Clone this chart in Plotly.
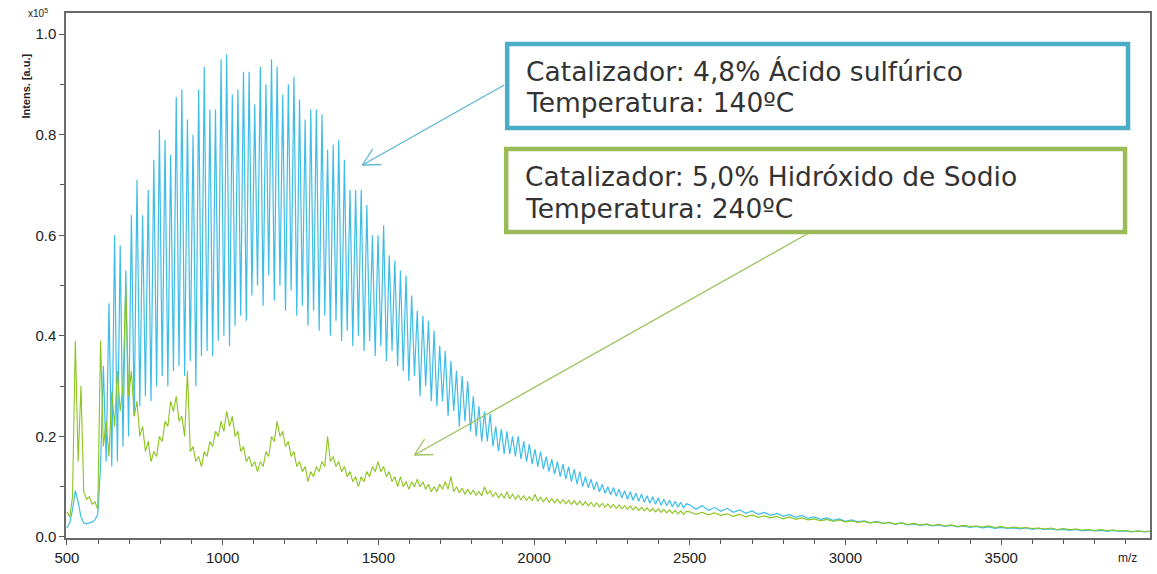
import numpy as np
import plotly.graph_objects as go

# ---------------------------------------------------------------------------
# Spectrum sampling: fine m/z grid up to 2500, coarser grid for the tail
# ---------------------------------------------------------------------------
MZ_FINE_START, MZ_FINE_STEP = 500, 9
MZ_TAIL_START, MZ_TAIL_STEP = 2500, 20

# Intensity (x10^5 a.u.) - 4.8 % sulfuric acid, 140 ºC
ACID_FINE = [
    0.018, 0.028, 0.055, 0.092, 0.070, 0.040, 0.028, 0.026, 0.028, 0.030,
    0.034, 0.045, 0.14, 0.34, 0.15, 0.465, 0.14, 0.60, 0.15, 0.58,
    0.18, 0.53, 0.20, 0.64, 0.24, 0.71, 0.26, 0.64, 0.28, 0.69,
    0.27, 0.75, 0.30, 0.81, 0.32, 0.79, 0.30, 0.76, 0.33, 0.875,
    0.34, 0.89, 0.32, 0.83, 0.35, 0.80, 0.30, 0.89, 0.36, 0.935,
    0.37, 0.85, 0.36, 0.85, 0.39, 0.95, 0.40, 0.96, 0.38, 0.88,
    0.42, 0.89, 0.44, 0.925, 0.43, 0.925, 0.48, 0.86, 0.50, 0.935,
    0.46, 0.90, 0.52, 0.95, 0.47, 0.935, 0.50, 0.88, 0.45, 0.90,
    0.49, 0.915, 0.44, 0.87, 0.46, 0.83, 0.42, 0.85, 0.45, 0.85,
    0.41, 0.84, 0.44, 0.77, 0.40, 0.78, 0.43, 0.79, 0.39, 0.75,
    0.41, 0.69, 0.38, 0.69, 0.40, 0.69, 0.37, 0.66, 0.39, 0.60,
    0.36, 0.60, 0.38, 0.62, 0.35, 0.56, 0.37, 0.55, 0.34, 0.53,
    0.33, 0.52, 0.31, 0.48, 0.32, 0.45, 0.28, 0.44, 0.30, 0.43,
    0.27, 0.41, 0.26, 0.38, 0.27, 0.37, 0.24, 0.35, 0.25, 0.33,
    0.22, 0.32, 0.23, 0.31, 0.21, 0.28, 0.20, 0.26, 0.19, 0.25,
    0.19, 0.245, 0.18, 0.22, 0.17, 0.215, 0.165, 0.21, 0.165, 0.20,
    0.16, 0.20, 0.155, 0.19, 0.15, 0.185, 0.145, 0.175, 0.14, 0.17,
    0.135, 0.16, 0.13, 0.155, 0.125, 0.15, 0.12, 0.145, 0.115, 0.14,
    0.11, 0.135, 0.105, 0.13, 0.10, 0.12, 0.098, 0.115, 0.094, 0.11,
    0.09, 0.105, 0.087, 0.10, 0.084, 0.098, 0.081, 0.095, 0.078, 0.092,
    0.075, 0.09, 0.073, 0.087, 0.071, 0.085, 0.069, 0.082, 0.067, 0.080,
    0.065, 0.078, 0.063, 0.075, 0.062, 0.073, 0.060, 0.071, 0.059, 0.069,
    0.058, 0.066,
]
ACID_TAIL = [
    0.064, 0.055, 0.062, 0.053, 0.059, 0.051, 0.057, 0.049, 0.054, 0.047,
    0.052, 0.045, 0.049, 0.043, 0.047, 0.041, 0.045, 0.039, 0.043, 0.037,
    0.040, 0.035, 0.038, 0.033, 0.036, 0.031, 0.034, 0.030, 0.032, 0.028,
    0.031, 0.027, 0.029, 0.025, 0.028, 0.024, 0.026, 0.023, 0.025, 0.022,
    0.024, 0.021, 0.023, 0.020, 0.022, 0.019, 0.021, 0.018, 0.020, 0.017,
    0.019, 0.017, 0.018, 0.016, 0.018, 0.015, 0.017, 0.015, 0.016, 0.014,
    0.015, 0.013, 0.015, 0.012, 0.014, 0.012, 0.013, 0.011, 0.013, 0.011,
    0.012, 0.010, 0.012, 0.010, 0.011,
]

# Intensity (x10^5 a.u.) - 5.0 % sodium hydroxide, 240 ºC
BASE_FINE = [
    0.05, 0.04, 0.08, 0.39, 0.15, 0.30, 0.09, 0.075, 0.08, 0.065,
    0.07, 0.055, 0.39, 0.18, 0.23, 0.16, 0.29, 0.22, 0.33, 0.25,
    0.30, 0.50, 0.28, 0.33, 0.24, 0.27, 0.20, 0.22, 0.17, 0.19,
    0.15, 0.17, 0.16, 0.20, 0.19, 0.23, 0.22, 0.27, 0.25, 0.28,
    0.23, 0.24, 0.20, 0.33, 0.17, 0.18, 0.15, 0.16, 0.14, 0.17,
    0.16, 0.19, 0.18, 0.21, 0.20, 0.23, 0.21, 0.25, 0.22, 0.24,
    0.20, 0.21, 0.17, 0.18, 0.15, 0.16, 0.14, 0.15, 0.13, 0.15,
    0.14, 0.17, 0.16, 0.20, 0.19, 0.23, 0.20, 0.21, 0.18, 0.19,
    0.16, 0.17, 0.14, 0.15, 0.13, 0.14, 0.11, 0.13, 0.12, 0.14,
    0.13, 0.15, 0.14, 0.20, 0.15, 0.16, 0.14, 0.15, 0.13, 0.14,
    0.12, 0.13, 0.11, 0.12, 0.10, 0.12, 0.11, 0.13, 0.12, 0.14,
    0.13, 0.15, 0.13, 0.14, 0.12, 0.13, 0.11, 0.12, 0.10, 0.12,
    0.10, 0.11, 0.095, 0.11, 0.10, 0.115, 0.10, 0.11, 0.095, 0.105,
    0.09, 0.10, 0.09, 0.105, 0.095, 0.11, 0.095, 0.12, 0.09, 0.10,
    0.088, 0.097, 0.085, 0.095, 0.085, 0.093, 0.083, 0.09, 0.082, 0.10,
    0.085, 0.092, 0.08, 0.088, 0.078, 0.086, 0.077, 0.09, 0.076, 0.085,
    0.075, 0.083, 0.074, 0.082, 0.073, 0.08, 0.072, 0.085, 0.071, 0.079,
    0.07, 0.078, 0.069, 0.076, 0.068, 0.075, 0.067, 0.074, 0.066, 0.073,
    0.065, 0.072, 0.064, 0.071, 0.063, 0.07, 0.062, 0.069, 0.061, 0.068,
    0.06, 0.067, 0.059, 0.066, 0.058, 0.065, 0.057, 0.064, 0.056, 0.063,
    0.055, 0.062, 0.054, 0.06, 0.053, 0.059, 0.052, 0.058, 0.051, 0.057,
    0.05, 0.056, 0.049, 0.055, 0.048, 0.054, 0.047, 0.053, 0.046, 0.052,
    0.045, 0.051,
]
BASE_TAIL = [
    0.050, 0.045, 0.049, 0.044, 0.048, 0.043, 0.046, 0.041, 0.045, 0.040,
    0.044, 0.039, 0.042, 0.038, 0.041, 0.036, 0.040, 0.035, 0.038, 0.034,
    0.036, 0.032, 0.035, 0.031, 0.034, 0.030, 0.032, 0.029, 0.031, 0.028,
    0.030, 0.027, 0.029, 0.026, 0.028, 0.025, 0.027, 0.024, 0.026, 0.023,
    0.025, 0.022, 0.024, 0.021, 0.023, 0.021, 0.022, 0.020, 0.022, 0.019,
    0.021, 0.018, 0.020, 0.018, 0.019, 0.017, 0.018, 0.016, 0.018, 0.015,
    0.017, 0.015, 0.016, 0.014, 0.015, 0.013, 0.015, 0.013, 0.014, 0.012,
    0.013, 0.011, 0.012, 0.011, 0.012,
]

X_TICKS = [500, 1000, 1500, 2000, 2500, 3000, 3500]
X_TICK_TEXT = ["500", "1000", "1500", "2000", "2500", "3000", "3500"]
Y_TICKS = [0.0, 0.2, 0.4, 0.6, 0.8, 1.0]
Y_TICK_TEXT = ["0.0", "0.2", "0.4", "0.6", "0.8", "1.0"]

LABEL_ACID = ["Catalizador: 4,8% Ácido sulfúrico", "Temperatura: 140ºC"]
LABEL_BASE = ["Catalizador: 5,0% Hidróxido de Sodio", "Temperatura: 240ºC"]

ACID_COLOR = "#3EBDE8"
BASE_COLOR = "#8CC41E"
ACID_BOX = "#4BACC6"
BASE_BOX = "#9BBB59"

# ---------------------------------------------------------------------------
W, H = 1157, 574
ML, MR, MT, MB = 66, 5, 13, 36
PW, PH = W - ML - MR, H - MT - MB


def px(x):
    """pixel column -> paper x"""
    return (x - ML) / PW


def py(y):
    """pixel row -> paper y"""
    return (H - MB - y) / PH


mz = np.concatenate([
    MZ_FINE_START + MZ_FINE_STEP * np.arange(len(ACID_FINE)),
    MZ_TAIL_START + MZ_TAIL_STEP * np.arange(len(ACID_TAIL)),
])
acid = ACID_FINE + ACID_TAIL
base = BASE_FINE + BASE_TAIL

fig = go.Figure()
fig.add_trace(go.Scatter(x=mz, y=acid, mode="lines",
                         line=dict(color=ACID_COLOR, width=1.2),
                         name="H2SO4", showlegend=False))
fig.add_trace(go.Scatter(x=mz, y=base, mode="lines",
                         line=dict(color=BASE_COLOR, width=1.1),
                         name="NaOH", showlegend=False))

tick_font = dict(family="Liberation Sans, Arial, sans-serif", size=15, color="#222")
axis_common = dict(showgrid=False, zeroline=False, showline=True, mirror=True,
                   linecolor="#6a6a6a", linewidth=1.5, ticks="outside",
                   ticklen=5, tickwidth=1, tickcolor="#555", tickfont=tick_font)

fig.update_xaxes(range=[497, 3978], tickmode="array", tickvals=X_TICKS,
                 ticktext=X_TICK_TEXT,
                 minor=dict(tickmode="array", tickvals=list(np.arange(600, 3975, 100)),
                            ticks="outside", ticklen=4, tickcolor="#555"),
                 **axis_common)
fig.update_yaxes(range=[-0.002, 1.042], tickmode="array", tickvals=Y_TICKS,
                 ticktext=Y_TICK_TEXT,
                 minor=dict(tickmode="array", tickvals=[0.1, 0.3, 0.5, 0.7, 0.9],
                            ticks="outside", ticklen=4, tickcolor="#555"),
                 **axis_common)

shapes = []
annotations = []

# axis captions
annotations.append(dict(text="<b>Intens. [a.u.]</b>", x=px(17), y=py(52),
                        xref="paper", yref="paper", textangle=-90, showarrow=False,
                        font=dict(family="Liberation Sans, Arial", size=11, color="#222")))
annotations.append(dict(text="x10<sup>5</sup>", x=px(38), y=py(13),
                        xref="paper", yref="paper", showarrow=False,
                        xanchor="center", yanchor="middle",
                        font=dict(family="Liberation Sans, Arial", size=10, color="#222")))
annotations.append(dict(text="m/z", x=px(1141), y=py(567),
                        xref="paper", yref="paper", showarrow=False,
                        font=dict(family="Liberation Sans, Arial", size=12, color="#222")))


def label_box(x0, y0, x1, y1, color, lines, arrow_tail, arrow_head, arrow_color):
    # connector with an open V head
    hx, hy = arrow_head
    tx, ty = arrow_tail
    shapes.append(dict(type="line", xref="paper", yref="paper",
                       x0=px(tx), y0=py(ty), x1=px(hx), y1=py(hy),
                       line=dict(color=arrow_color, width=1.3)))
    d = np.array([tx - hx, ty - hy], dtype=float)
    d /= np.hypot(*d)
    for ang in (np.radians(28), -np.radians(28)):
        c, s = np.cos(ang), np.sin(ang)
        r = np.array([d[0] * c - d[1] * s, d[0] * s + d[1] * c]) * 19
        shapes.append(dict(type="line", xref="paper", yref="paper",
                           x0=px(hx), y0=py(hy), x1=px(hx + r[0]), y1=py(hy + r[1]),
                           line=dict(color=arrow_color, width=1.3)))
    shapes.append(dict(type="rect", xref="paper", yref="paper",
                       x0=px(x0), y0=py(y0), x1=px(x1), y1=py(y1),
                       line=dict(color=color, width=4.5), fillcolor="white"))
    for k, txt in enumerate(lines):
        annotations.append(dict(text=txt, x=px(x0 + 17), y=py(y0 + 27 + 32 * k),
                                xref="paper", yref="paper", xanchor="left",
                                yanchor="middle", showarrow=False,
                                font=dict(family="DejaVu Sans, sans-serif", size=26.5,
                                          color="#333333")))


label_box(508, 44, 1130, 128, ACID_BOX, LABEL_ACID, (505, 85), (363, 165), "#5BB5D2")
label_box(507, 149, 1127, 232, BASE_BOX, LABEL_BASE, (812, 232), (415, 455), "#9CC25C")

fig.update_layout(width=W, height=H, margin=dict(l=ML, r=MR, t=MT, b=MB),
                  paper_bgcolor="white", plot_bgcolor="white",
                  shapes=shapes, annotations=annotations, showlegend=False)

fig.write_html("out.html")
